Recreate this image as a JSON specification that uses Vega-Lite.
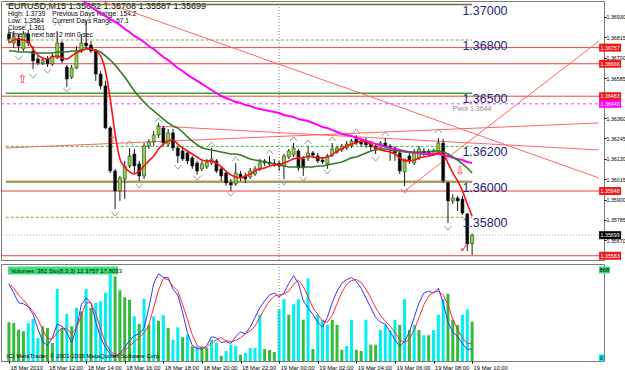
{
"$schema": "https://vega.github.io/schema/vega-lite/v6.json",
"padding": 0,
"background": "white",
"spacing": 2,
"config": {
 "view": {"stroke": "#7a7a7a", "strokeWidth": 1},
 "font": "Liberation Sans",
 "axis": {"labelFont": "Liberation Sans", "labelColor": "#000000", "tickColor": "#000000", "domain": false, "grid": false},
 "axisY": {"labelFontSize": 5.3, "tickSize": 2, "labelPadding": 0},
 "axisX": {"labelFontSize": 5.8}
},
"datasets": {
 "bars": [
{"t":"2010-03-18T10:00Z","open":1.36834,"high":1.36862,"low":1.36783,"close":1.36806,"vol":375,"vcol":"green","sto":79,"sig":80,"ema1":1.36783,"ema2":1.36738,"ema3":null},
{"t":"2010-03-18T10:15Z","open":1.36783,"high":1.36851,"low":1.36755,"close":1.36817,"vol":368,"vcol":"green","sto":70,"sig":75,"ema1":1.36800,"ema2":1.36738,"ema3":null},
{"t":"2010-03-18T10:30Z","open":1.36811,"high":1.36834,"low":1.36738,"close":1.36766,"vol":303,"vcol":"green","sto":60,"sig":68,"ema1":1.36806,"ema2":1.36732,"ema3":null},
{"t":"2010-03-18T10:45Z","open":1.36749,"high":1.36851,"low":1.36738,"close":1.36834,"vol":288,"vcol":"green","sto":59,"sig":63,"ema1":1.36800,"ema2":1.36732,"ema3":null},
{"t":"2010-03-18T11:00Z","open":1.36834,"high":1.36856,"low":1.36766,"close":1.36783,"vol":368,"vcol":"cyan","sto":56,"sig":57,"ema1":1.36789,"ema2":1.36732,"ema3":null},
{"t":"2010-03-18T11:15Z","open":1.36738,"high":1.36766,"low":1.36636,"close":1.36682,"vol":407,"vcol":"cyan","sto":48,"sig":51,"ema1":1.36749,"ema2":1.36727,"ema3":null},
{"t":"2010-03-18T11:30Z","open":1.36693,"high":1.36710,"low":1.36659,"close":1.36670,"vol":223,"vcol":"cyan","sto":33,"sig":43,"ema1":1.36715,"ema2":1.36727,"ema3":null},
{"t":"2010-03-18T11:45Z","open":1.36670,"high":1.36699,"low":1.36659,"close":1.36687,"vol":336,"vcol":"green","sto":20,"sig":32,"ema1":1.36699,"ema2":1.36727,"ema3":null},
{"t":"2010-03-18T12:00Z","open":1.36693,"high":1.36710,"low":1.36648,"close":1.36665,"vol":320,"vcol":"green","sto":16,"sig":23,"ema1":1.36693,"ema2":1.36727,"ema3":null},
{"t":"2010-03-18T12:15Z","open":1.36665,"high":1.36727,"low":1.36654,"close":1.36710,"vol":174,"vcol":"green","sto":24,"sig":23,"ema1":1.36704,"ema2":1.36727,"ema3":null},
{"t":"2010-03-18T12:30Z","open":1.36699,"high":1.36851,"low":1.36693,"close":1.36783,"vol":698,"vcol":"cyan","sto":38,"sig":29,"ema1":1.36710,"ema2":1.36732,"ema3":null},
{"t":"2010-03-18T12:45Z","open":1.36783,"high":1.36794,"low":1.36670,"close":1.36682,"vol":320,"vcol":"green","sto":36,"sig":34,"ema1":1.36699,"ema2":1.36732,"ema3":null},
{"t":"2010-03-18T13:00Z","open":1.36648,"high":1.36659,"low":1.36535,"close":1.36580,"vol":455,"vcol":"cyan","sto":29,"sig":33,"ema1":1.36693,"ema2":1.36732,"ema3":null},
{"t":"2010-03-18T13:15Z","open":1.36591,"high":1.36659,"low":1.36580,"close":1.36642,"vol":336,"vcol":"green","sto":19,"sig":28,"ema1":1.36710,"ema2":1.36738,"ema3":1.37065},
{"t":"2010-03-18T13:30Z","open":1.36642,"high":1.36766,"low":1.36636,"close":1.36738,"vol":514,"vcol":"cyan","sto":34,"sig":34,"ema1":1.36727,"ema2":1.36738,"ema3":1.37043},
{"t":"2010-03-18T13:45Z","open":1.36738,"high":1.36834,"low":1.36727,"close":1.36783,"vol":481,"vcol":"green","sto":58,"sig":47,"ema1":1.36738,"ema2":1.36744,"ema3":1.37026},
{"t":"2010-03-18T14:00Z","open":1.36783,"high":1.36907,"low":1.36749,"close":1.36766,"vol":698,"vcol":"cyan","sto":65,"sig":60,"ema1":1.36749,"ema2":1.36749,"ema3":1.37009},
{"t":"2010-03-18T14:15Z","open":1.36772,"high":1.36794,"low":1.36727,"close":1.36738,"vol":514,"vcol":"green","sto":60,"sig":60,"ema1":1.36749,"ema2":1.36749,"ema3":1.36986},
{"t":"2010-03-18T14:30Z","open":1.36738,"high":1.36749,"low":1.36569,"close":1.36608,"vol":562,"vcol":"cyan","sto":40,"sig":49,"ema1":1.36738,"ema2":1.36744,"ema3":1.36969},
{"t":"2010-03-18T14:45Z","open":1.36608,"high":1.36625,"low":1.36524,"close":1.36541,"vol":578,"vcol":"cyan","sto":24,"sig":33,"ema1":1.36710,"ema2":1.36732,"ema3":1.36952},
{"t":"2010-03-18T15:00Z","open":1.36541,"high":1.36569,"low":1.36298,"close":1.36304,"vol":659,"vcol":"cyan","sto":14,"sig":19,"ema1":1.36625,"ema2":1.36710,"ema3":1.36935},
{"t":"2010-03-18T15:15Z","open":1.36304,"high":1.36315,"low":1.36050,"close":1.36061,"vol":853,"vcol":"cyan","sto":7,"sig":10,"ema1":1.36467,"ema2":1.36687,"ema3":1.36918},
{"t":"2010-03-18T15:30Z","open":1.36061,"high":1.36073,"low":1.35847,"close":1.35948,"vol":820,"vcol":"green","sto":5,"sig":6.5,"ema1":1.36270,"ema2":1.36659,"ema3":1.36902},
{"t":"2010-03-18T15:45Z","open":1.35948,"high":1.36033,"low":1.35892,"close":1.36022,"vol":685,"vcol":"green","sto":8,"sig":6.5,"ema1":1.36129,"ema2":1.36625,"ema3":1.36885},
{"t":"2010-03-18T16:00Z","open":1.36016,"high":1.36118,"low":1.35903,"close":1.36089,"vol":617,"vcol":"green","sto":14,"sig":11,"ema1":1.36084,"ema2":1.36591,"ema3":1.36862},
{"t":"2010-03-18T16:15Z","open":1.36089,"high":1.36191,"low":1.36078,"close":1.36146,"vol":594,"vcol":"green","sto":21,"sig":15,"ema1":1.36056,"ema2":1.36552,"ema3":1.36845},
{"t":"2010-03-18T16:30Z","open":1.36157,"high":1.36185,"low":1.36044,"close":1.36089,"vol":433,"vcol":"cyan","sto":26,"sig":20,"ema1":1.36044,"ema2":1.36512,"ema3":1.36823},
{"t":"2010-03-18T16:45Z","open":1.36101,"high":1.36118,"low":1.36005,"close":1.36033,"vol":359,"vcol":"green","sto":28,"sig":24,"ema1":1.36061,"ema2":1.36479,"ema3":1.36806},
{"t":"2010-03-18T17:00Z","open":1.36033,"high":1.36219,"low":1.36016,"close":1.36202,"vol":604,"vcol":"cyan","sto":34,"sig":29,"ema1":1.36089,"ema2":1.36450,"ema3":1.36789},
{"t":"2010-03-18T17:15Z","open":1.36202,"high":1.36242,"low":1.36185,"close":1.36225,"vol":352,"vcol":"green","sto":55,"sig":37,"ema1":1.36118,"ema2":1.36422,"ema3":1.36766},
{"t":"2010-03-18T17:30Z","open":1.36225,"high":1.36287,"low":1.36202,"close":1.36264,"vol":433,"vcol":"cyan","sto":80,"sig":55,"ema1":1.36146,"ema2":1.36400,"ema3":1.36749},
{"t":"2010-03-18T17:45Z","open":1.36264,"high":1.36332,"low":1.36247,"close":1.36315,"vol":391,"vcol":"green","sto":90,"sig":73,"ema1":1.36185,"ema2":1.36377,"ema3":1.36727},
{"t":"2010-03-18T18:00Z","open":1.36304,"high":1.36315,"low":1.36202,"close":1.36219,"vol":443,"vcol":"cyan","sto":86,"sig":85,"ema1":1.36213,"ema2":1.36354,"ema3":1.36704},
{"t":"2010-03-18T18:15Z","open":1.36213,"high":1.36298,"low":1.36197,"close":1.36276,"vol":320,"vcol":"green","sto":86,"sig":84,"ema1":1.36230,"ema2":1.36332,"ema3":1.36687},
{"t":"2010-03-18T18:30Z","open":1.36276,"high":1.36298,"low":1.36174,"close":1.36191,"vol":206,"vcol":"cyan","sto":74,"sig":77,"ema1":1.36236,"ema2":1.36315,"ema3":1.36665},
{"t":"2010-03-18T18:45Z","open":1.36191,"high":1.36202,"low":1.36106,"close":1.36146,"vol":326,"vcol":"cyan","sto":68,"sig":72,"ema1":1.36213,"ema2":1.36304,"ema3":1.36642},
{"t":"2010-03-18T19:00Z","open":1.36174,"high":1.36191,"low":1.36118,"close":1.36129,"vol":230,"vcol":"green","sto":50,"sig":58,"ema1":1.36191,"ema2":1.36281,"ema3":1.36625},
{"t":"2010-03-18T19:15Z","open":1.36163,"high":1.36174,"low":1.36101,"close":1.36118,"vol":255,"vcol":"cyan","sto":29,"sig":43,"ema1":1.36174,"ema2":1.36253,"ema3":1.36603},
{"t":"2010-03-18T19:30Z","open":1.36135,"high":1.36146,"low":1.36073,"close":1.36089,"vol":142,"vcol":"green","sto":16,"sig":27,"ema1":1.36157,"ema2":1.36230,"ema3":1.36586},
{"t":"2010-03-18T19:45Z","open":1.36106,"high":1.36118,"low":1.36039,"close":1.36061,"vol":142,"vcol":"cyan","sto":13,"sig":16,"ema1":1.36140,"ema2":1.36208,"ema3":1.36569},
{"t":"2010-03-18T20:00Z","open":1.36073,"high":1.36118,"low":1.36061,"close":1.36101,"vol":142,"vcol":"green","sto":12,"sig":13,"ema1":1.36123,"ema2":1.36191,"ema3":1.36552},
{"t":"2010-03-18T20:15Z","open":1.36084,"high":1.36129,"low":1.36073,"close":1.36112,"vol":126,"vcol":"green","sto":16,"sig":14,"ema1":1.36118,"ema2":1.36185,"ema3":1.36535},
{"t":"2010-03-18T20:30Z","open":1.36106,"high":1.36191,"low":1.36095,"close":1.36129,"vol":206,"vcol":"cyan","sto":25,"sig":19,"ema1":1.36118,"ema2":1.36180,"ema3":1.36518},
{"t":"2010-03-18T20:45Z","open":1.36118,"high":1.36129,"low":1.36050,"close":1.36061,"vol":174,"vcol":"cyan","sto":24,"sig":22,"ema1":1.36106,"ema2":1.36174,"ema3":1.36501},
{"t":"2010-03-18T21:00Z","open":1.36073,"high":1.36089,"low":1.36005,"close":1.36033,"vol":50,"vcol":"green","sto":19,"sig":24,"ema1":1.36084,"ema2":1.36168,"ema3":1.36484},
{"t":"2010-03-18T21:15Z","open":1.36050,"high":1.36061,"low":1.35977,"close":1.35994,"vol":97,"vcol":"cyan","sto":20,"sig":21,"ema1":1.36061,"ema2":1.36163,"ema3":1.36473},
{"t":"2010-03-18T21:30Z","open":1.35994,"high":1.36016,"low":1.35948,"close":1.35982,"vol":160,"vcol":"cyan","sto":18,"sig":20,"ema1":1.36039,"ema2":1.36157,"ema3":1.36462},
{"t":"2010-03-18T21:45Z","open":1.35988,"high":1.36106,"low":1.35977,"close":1.36050,"vol":145,"vcol":"cyan","sto":25,"sig":21,"ema1":1.36027,"ema2":1.36157,"ema3":1.36450},
{"t":"2010-03-18T22:00Z","open":1.36044,"high":1.36061,"low":1.36005,"close":1.36027,"vol":61,"vcol":"green","sto":30,"sig":24,"ema1":1.36022,"ema2":1.36151,"ema3":1.36445},
{"t":"2010-03-18T22:15Z","open":1.36033,"high":1.36050,"low":1.35994,"close":1.36016,"vol":78,"vcol":"cyan","sto":28,"sig":28,"ema1":1.36033,"ema2":1.36140,"ema3":1.36433},
{"t":"2010-03-18T22:30Z","open":1.36027,"high":1.36078,"low":1.36016,"close":1.36061,"vol":126,"vcol":"cyan","sto":35,"sig":31,"ema1":1.36044,"ema2":1.36129,"ema3":1.36428},
{"t":"2010-03-18T22:45Z","open":1.36044,"high":1.36089,"low":1.36033,"close":1.36073,"vol":126,"vcol":"cyan","sto":45,"sig":36,"ema1":1.36061,"ema2":1.36123,"ema3":1.36417},
{"t":"2010-03-18T23:00Z","open":1.36073,"high":1.36129,"low":1.36061,"close":1.36106,"vol":450,"vcol":"cyan","sto":55,"sig":45,"ema1":1.36073,"ema2":1.36118,"ema3":1.36411},
{"t":"2010-03-18T23:15Z","open":1.36118,"high":1.36129,"low":1.36089,"close":1.36106,"vol":116,"vcol":"green","sto":62,"sig":54,"ema1":1.36078,"ema2":1.36112,"ema3":1.36405},
{"t":"2010-03-18T23:30Z","open":1.36112,"high":1.36146,"low":1.36089,"close":1.36101,"vol":107,"vcol":"green","sto":68,"sig":62,"ema1":1.36089,"ema2":1.36106,"ema3":1.36400},
{"t":"2010-03-18T23:45Z","open":1.36106,"high":1.36129,"low":1.36084,"close":1.36101,"vol":87,"vcol":"green","sto":70,"sig":67,"ema1":1.36095,"ema2":1.36101,"ema3":1.36394},
{"t":"2010-03-19T00:00Z","open":1.36106,"high":1.36118,"low":1.36061,"close":1.36089,"vol":500,"vcol":"cyan","sto":66,"sig":68,"ema1":1.36095,"ema2":1.36095,"ema3":1.36388},
{"t":"2010-03-19T00:15Z","open":1.36089,"high":1.36157,"low":1.36016,"close":1.36146,"vol":600,"vcol":"cyan","sto":70,"sig":69,"ema1":1.36106,"ema2":1.36089,"ema3":1.36377},
{"t":"2010-03-19T00:30Z","open":1.36140,"high":1.36185,"low":1.36129,"close":1.36174,"vol":450,"vcol":"green","sto":80,"sig":72,"ema1":1.36118,"ema2":1.36084,"ema3":1.36371},
{"t":"2010-03-19T00:45Z","open":1.36151,"high":1.36219,"low":1.36140,"close":1.36191,"vol":550,"vcol":"cyan","sto":88,"sig":79,"ema1":1.36129,"ema2":1.36084,"ema3":1.36366},
{"t":"2010-03-19T01:00Z","open":1.36174,"high":1.36185,"low":1.36061,"close":1.36078,"vol":600,"vcol":"cyan","sto":80,"sig":83,"ema1":1.36135,"ema2":1.36084,"ema3":1.36354},
{"t":"2010-03-19T01:15Z","open":1.36129,"high":1.36146,"low":1.36033,"close":1.36078,"vol":400,"vcol":"green","sto":62,"sig":77,"ema1":1.36135,"ema2":1.36084,"ema3":1.36349},
{"t":"2010-03-19T01:30Z","open":1.36135,"high":1.36202,"low":1.36118,"close":1.36163,"vol":800,"vcol":"cyan","sto":55,"sig":66,"ema1":1.36146,"ema2":1.36084,"ema3":1.36343},
{"t":"2010-03-19T01:45Z","open":1.36163,"high":1.36174,"low":1.36135,"close":1.36151,"vol":116,"vcol":"green","sto":48,"sig":55,"ema1":1.36140,"ema2":1.36084,"ema3":1.36332},
{"t":"2010-03-19T02:00Z","open":1.36146,"high":1.36163,"low":1.36106,"close":1.36118,"vol":450,"vcol":"cyan","sto":40,"sig":48,"ema1":1.36135,"ema2":1.36089,"ema3":1.36321},
{"t":"2010-03-19T02:15Z","open":1.36123,"high":1.36135,"low":1.36101,"close":1.36112,"vol":400,"vcol":"cyan","sto":35,"sig":41,"ema1":1.36135,"ema2":1.36089,"ema3":1.36309},
{"t":"2010-03-19T02:30Z","open":1.36101,"high":1.36157,"low":1.36073,"close":1.36146,"vol":350,"vcol":"cyan","sto":45,"sig":40,"ema1":1.36140,"ema2":1.36095,"ema3":1.36304},
{"t":"2010-03-19T02:45Z","open":1.36151,"high":1.36219,"low":1.36140,"close":1.36185,"vol":400,"vcol":"green","sto":60,"sig":47,"ema1":1.36151,"ema2":1.36101,"ema3":1.36292},
{"t":"2010-03-19T03:00Z","open":1.36168,"high":1.36202,"low":1.36157,"close":1.36191,"vol":350,"vcol":"green","sto":72,"sig":59,"ema1":1.36174,"ema2":1.36106,"ema3":1.36281},
{"t":"2010-03-19T03:15Z","open":1.36180,"high":1.36213,"low":1.36168,"close":1.36202,"vol":109,"vcol":"green","sto":80,"sig":71,"ema1":1.36185,"ema2":1.36112,"ema3":1.36270},
{"t":"2010-03-19T03:30Z","open":1.36191,"high":1.36230,"low":1.36180,"close":1.36213,"vol":145,"vcol":"cyan","sto":84,"sig":79,"ema1":1.36202,"ema2":1.36123,"ema3":1.36264},
{"t":"2010-03-19T03:45Z","open":1.36202,"high":1.36242,"low":1.36191,"close":1.36230,"vol":400,"vcol":"cyan","sto":86,"sig":83,"ema1":1.36213,"ema2":1.36135,"ema3":1.36259},
{"t":"2010-03-19T04:00Z","open":1.36242,"high":1.36264,"low":1.36208,"close":1.36219,"vol":109,"vcol":"green","sto":82,"sig":84,"ema1":1.36219,"ema2":1.36140,"ema3":1.36247},
{"t":"2010-03-19T04:15Z","open":1.36225,"high":1.36242,"low":1.36197,"close":1.36213,"vol":97,"vcol":"green","sto":75,"sig":81,"ema1":1.36230,"ema2":1.36151,"ema3":1.36242},
{"t":"2010-03-19T04:30Z","open":1.36230,"high":1.36247,"low":1.36191,"close":1.36208,"vol":400,"vcol":"cyan","sto":65,"sig":74,"ema1":1.36225,"ema2":1.36163,"ema3":1.36230},
{"t":"2010-03-19T04:45Z","open":1.36213,"high":1.36230,"low":1.36174,"close":1.36197,"vol":158,"vcol":"green","sto":55,"sig":65,"ema1":1.36213,"ema2":1.36174,"ema3":1.36225},
{"t":"2010-03-19T05:00Z","open":1.36202,"high":1.36213,"low":1.36157,"close":1.36185,"vol":158,"vcol":"green","sto":45,"sig":55,"ema1":1.36191,"ema2":1.36180,"ema3":1.36213},
{"t":"2010-03-19T05:15Z","open":1.36191,"high":1.36230,"low":1.36180,"close":1.36219,"vol":300,"vcol":"cyan","sto":40,"sig":47,"ema1":1.36180,"ema2":1.36185,"ema3":1.36208},
{"t":"2010-03-19T05:30Z","open":1.36219,"high":1.36247,"low":1.36191,"close":1.36202,"vol":350,"vcol":"cyan","sto":38,"sig":41,"ema1":1.36174,"ema2":1.36185,"ema3":1.36197},
{"t":"2010-03-19T05:45Z","open":1.36202,"high":1.36213,"low":1.36118,"close":1.36191,"vol":300,"vcol":"cyan","sto":30,"sig":36,"ema1":1.36168,"ema2":1.36180,"ema3":1.36191},
{"t":"2010-03-19T06:00Z","open":1.36191,"high":1.36202,"low":1.36118,"close":1.36163,"vol":400,"vcol":"cyan","sto":22,"sig":30,"ema1":1.36157,"ema2":1.36174,"ema3":1.36185},
{"t":"2010-03-19T06:15Z","open":1.36163,"high":1.36174,"low":1.36044,"close":1.36061,"vol":350,"vcol":"green","sto":15,"sig":22,"ema1":1.36135,"ema2":1.36174,"ema3":1.36180},
{"t":"2010-03-19T06:30Z","open":1.36056,"high":1.36118,"low":1.35977,"close":1.36129,"vol":600,"vcol":"cyan","sto":20,"sig":19,"ema1":1.36118,"ema2":1.36168,"ema3":1.36174},
{"t":"2010-03-19T06:45Z","open":1.36146,"high":1.36174,"low":1.36101,"close":1.36118,"vol":300,"vcol":"green","sto":30,"sig":22,"ema1":1.36118,"ema2":1.36168,"ema3":1.36168},
{"t":"2010-03-19T07:00Z","open":1.36106,"high":1.36185,"low":1.36095,"close":1.36163,"vol":350,"vcol":"cyan","sto":45,"sig":32,"ema1":1.36123,"ema2":1.36168,"ema3":1.36163},
{"t":"2010-03-19T07:15Z","open":1.36135,"high":1.36202,"low":1.36123,"close":1.36185,"vol":300,"vcol":"green","sto":60,"sig":45,"ema1":1.36135,"ema2":1.36168,"ema3":1.36163},
{"t":"2010-03-19T07:30Z","open":1.36174,"high":1.36191,"low":1.36146,"close":1.36157,"vol":250,"vcol":"cyan","sto":70,"sig":58,"ema1":1.36140,"ema2":1.36168,"ema3":1.36157},
{"t":"2010-03-19T07:45Z","open":1.36174,"high":1.36185,"low":1.36146,"close":1.36157,"vol":250,"vcol":"green","sto":72,"sig":67,"ema1":1.36146,"ema2":1.36168,"ema3":1.36157},
{"t":"2010-03-19T08:00Z","open":1.36157,"high":1.36185,"low":1.36146,"close":1.36174,"vol":300,"vcol":"cyan","sto":70,"sig":71,"ema1":1.36151,"ema2":1.36174,"ema3":1.36157},
{"t":"2010-03-19T08:15Z","open":1.36163,"high":1.36247,"low":1.36151,"close":1.36219,"vol":450,"vcol":"cyan","sto":75,"sig":72,"ema1":1.36163,"ema2":1.36174,"ema3":1.36157},
{"t":"2010-03-19T08:30Z","open":1.36219,"high":1.36242,"low":1.35994,"close":1.36005,"vol":600,"vcol":"cyan","sto":60,"sig":68,"ema1":1.36157,"ema2":1.36168,"ema3":1.36151},
{"t":"2010-03-19T08:45Z","open":1.35994,"high":1.36005,"low":1.35768,"close":1.35892,"vol":650,"vcol":"green","sto":40,"sig":58,"ema1":1.36106,"ema2":1.36157,"ema3":1.36146},
{"t":"2010-03-19T09:00Z","open":1.35892,"high":1.35931,"low":1.35875,"close":1.35909,"vol":400,"vcol":"green","sto":30,"sig":43,"ema1":1.36050,"ema2":1.36140,"ema3":1.36135},
{"t":"2010-03-19T09:15Z","open":1.35909,"high":1.35922,"low":1.35836,"close":1.35892,"vol":350,"vcol":"green","sto":25,"sig":32,"ema1":1.36005,"ema2":1.36123,"ema3":1.36129},
{"t":"2010-03-19T09:30Z","open":1.35903,"high":1.35922,"low":1.35813,"close":1.35824,"vol":450,"vcol":"cyan","sto":18,"sig":24,"ema1":1.35948,"ema2":1.36101,"ema3":1.36123},
{"t":"2010-03-19T09:45Z","open":1.35819,"high":1.35824,"low":1.35610,"close":1.35650,"vol":500,"vcol":"cyan","sto":12,"sig":18,"ema1":1.35875,"ema2":1.36078,"ema3":1.36112},
{"t":"2010-03-19T10:00Z","open":1.35652,"high":1.35708,"low":1.35587,"close":1.35699,"vol":382,"vcol":"green","sto":12.4,"sig":17.8,"ema1":1.35807,"ema2":1.36050,"ema3":1.36106}
 ],
 "fractals": [
{"t":"2010-03-18T11:00Z","price":1.36890,"dir":"up"},
{"t":"2010-03-18T12:30Z","price":1.36890,"dir":"up"},
{"t":"2010-03-18T16:15Z","price":1.36219,"dir":"up"},
{"t":"2010-03-18T17:45Z","price":1.36349,"dir":"up"},
{"t":"2010-03-18T20:30Z","price":1.36213,"dir":"up"},
{"t":"2010-03-18T21:45Z","price":1.36129,"dir":"up"},
{"t":"2010-03-18T23:30Z","price":1.36168,"dir":"up"},
{"t":"2010-03-19T00:45Z","price":1.36242,"dir":"up"},
{"t":"2010-03-19T01:30Z","price":1.36225,"dir":"up"},
{"t":"2010-03-19T02:45Z","price":1.36242,"dir":"up"},
{"t":"2010-03-19T04:00Z","price":1.36287,"dir":"up"},
{"t":"2010-03-19T05:30Z","price":1.36270,"dir":"up"},
{"t":"2010-03-19T08:15Z","price":1.36287,"dir":"up"},
{"t":"2010-03-18T10:30Z","price":1.36699,"dir":"down"},
{"t":"2010-03-18T11:15Z","price":1.36597,"dir":"down"},
{"t":"2010-03-18T12:00Z","price":1.36625,"dir":"down"},
{"t":"2010-03-18T13:00Z","price":1.36518,"dir":"down"},
{"t":"2010-03-18T15:30Z","price":1.35819,"dir":"down"},
{"t":"2010-03-18T16:45Z","price":1.35977,"dir":"down"},
{"t":"2010-03-18T18:45Z","price":1.36084,"dir":"down"},
{"t":"2010-03-18T19:45Z","price":1.36022,"dir":"down"},
{"t":"2010-03-18T21:30Z","price":1.35931,"dir":"down"},
{"t":"2010-03-19T00:15Z","price":1.35994,"dir":"down"},
{"t":"2010-03-19T01:15Z","price":1.36016,"dir":"down"},
{"t":"2010-03-19T02:30Z","price":1.36056,"dir":"down"},
{"t":"2010-03-19T05:00Z","price":1.36129,"dir":"down"},
{"t":"2010-03-19T06:30Z","price":1.35948,"dir":"down"},
{"t":"2010-03-19T08:45Z","price":1.35740,"dir":"down"}
 ],
 "levels": [
{"level":1.3700,"style":"olive","from":"2010-03-18T09:50Z","to":"2010-03-19T10:00Z"},
{"level":1.3680,"style":"olive-dash","from":"2010-03-18T09:50Z","to":"2010-03-19T10:00Z"},
{"level":1.3650,"style":"green","from":"2010-03-18T09:50Z","to":"2010-03-19T10:00Z"},
{"level":1.3620,"style":"green-dash","from":"2010-03-18T09:50Z","to":"2010-03-19T10:00Z"},
{"level":1.3600,"style":"olive-bold","from":"2010-03-18T09:50Z","to":"2010-03-19T10:00Z"},
{"level":1.3580,"style":"olive-dash","from":"2010-03-18T09:50Z","to":"2010-03-19T10:00Z"}
 ],
 "marks": [
{"price":1.36757,"kind":"line"},{"price":1.36666,"kind":"line"},{"price":1.36483,"kind":"line"},
{"price":1.36440,"kind":"pivot"},{"price":1.35948,"kind":"line"},{"price":1.35699,"kind":"bid"},{"price":1.35583,"kind":"line"}
 ]
},
"vconcat": [
{
 "width": 603,
 "height": 259,
 "layer": [
  {
   "data": {"values": [
    {"t":"2010-03-18T09:57Z","price":1.36992,"size":"big","text":"EURUSD,M15  1.35652 1.35708 1.35587 1.35699"},
    {"t":"2010-03-18T09:57Z","price":1.36947,"size":"small","text":"High: 1.3739"},
    {"t":"2010-03-18T12:15Z","price":1.36947,"size":"small","text":"Previous Days Range: 154.2"},
    {"t":"2010-03-18T09:57Z","price":1.36907,"size":"small","text":"Low: 1.3584"},
    {"t":"2010-03-18T12:15Z","price":1.36907,"size":"small","text":"Current Days Range: 67.1"},
    {"t":"2010-03-18T09:57Z","price":1.36868,"size":"small","text":"Close: 1.361"},
    {"t":"2010-03-18T09:57Z","price":1.36828,"size":"small","text":"Time to next bar: 2 min 0 sec"}
   ]},
   "mark": {"type": "text", "align": "left", "baseline": "middle", "color": "#000000"},
   "encoding": {
    "x": {"field": "t", "type": "temporal", "scale": {"type": "utc", "domain": [1268905850000, 1269016470000]}, "axis": null},
    "y": {"field": "price", "type": "quantitative", "scale": {"domain": [1.35559, 1.3702], "nice": false, "zero": false}, "axis": {"orient": "right", "values": [1.3693, 1.36815, 1.367, 1.36585, 1.3636, 1.36245, 1.3613, 1.36015, 1.359, 1.35785, 1.3567], "format": ".5f", "title": null, "labelOverlap": false, "labelFlush": false}},
    "size": {"field": "size", "type": "nominal", "legend": null, "scale": {"domain": ["big", "small"], "range": [9, 6.6]}},
    "text": {"field": "text"}
   }
  },
  {
   "data": {"name": "marks"},
   "transform": [{"filter": "datum.kind == 'line'"}],
   "mark": {"type": "rule", "color": "#ee4040", "strokeWidth": 1},
   "encoding": {"y": {"field": "price", "type": "quantitative", "scale": {"domain": [1.35559, 1.3702], "nice": false, "zero": false}, "axis": {"orient": "right", "values": [1.3693, 1.36815, 1.367, 1.36585, 1.3636, 1.36245, 1.3613, 1.36015, 1.359, 1.35785, 1.3567], "format": ".5f", "title": null, "labelOverlap": false, "labelFlush": false}}}
  },
  {
   "data": {"name": "marks"},
   "transform": [{"filter": "datum.kind == 'pivot'"}],
   "mark": {"type": "rule", "color": "#ff40ff", "strokeWidth": 1, "strokeDash": [3, 3]},
   "encoding": {"y": {"field": "price", "type": "quantitative", "scale": {"domain": [1.35559, 1.3702], "nice": false, "zero": false}, "axis": {"orient": "right", "values": [1.3693, 1.36815, 1.367, 1.36585, 1.3636, 1.36245, 1.3613, 1.36015, 1.359, 1.35785, 1.3567], "format": ".5f", "title": null, "labelOverlap": false, "labelFlush": false}}}
  },
  {
   "data": {"name": "marks"},
   "transform": [{"filter": "datum.kind == 'bid'"}],
   "mark": {"type": "rule", "color": "#b8b8b8", "strokeWidth": 1, "strokeDash": [1, 2]},
   "encoding": {"y": {"field": "price", "type": "quantitative", "scale": {"domain": [1.35559, 1.3702], "nice": false, "zero": false}, "axis": {"orient": "right", "values": [1.3693, 1.36815, 1.367, 1.36585, 1.3636, 1.36245, 1.3613, 1.36015, 1.359, 1.35785, 1.3567], "format": ".5f", "title": null, "labelOverlap": false, "labelFlush": false}}}
  },
  {
   "data": {"name": "levels"},
   "transform": [{"filter": "datum.style == 'olive'"}],
   "mark": {"type": "rule", "color": "#6e6a30", "strokeWidth": 1.5},
   "encoding": {
    "x": {"field": "from", "type": "temporal", "scale": {"type": "utc", "domain": [1268905850000, 1269016470000]}, "axis": null},
    "x2": {"field": "to"},
    "y": {"field": "level", "type": "quantitative", "scale": {"domain": [1.35559, 1.3702], "nice": false, "zero": false}, "axis": {"orient": "right", "values": [1.3693, 1.36815, 1.367, 1.36585, 1.3636, 1.36245, 1.3613, 1.36015, 1.359, 1.35785, 1.3567], "format": ".5f", "title": null, "labelOverlap": false, "labelFlush": false}}
   }
  },
  {
   "data": {"name": "levels"},
   "transform": [{"filter": "datum.style == 'olive-dash'"}],
   "mark": {"type": "rule", "color": "#9a9a30", "strokeWidth": 1, "strokeDash": [3, 2]},
   "encoding": {
    "x": {"field": "from", "type": "temporal", "scale": {"type": "utc", "domain": [1268905850000, 1269016470000]}, "axis": null},
    "x2": {"field": "to"},
    "y": {"field": "level", "type": "quantitative", "scale": {"domain": [1.35559, 1.3702], "nice": false, "zero": false}, "axis": {"orient": "right", "values": [1.3693, 1.36815, 1.367, 1.36585, 1.3636, 1.36245, 1.3613, 1.36015, 1.359, 1.35785, 1.3567], "format": ".5f", "title": null, "labelOverlap": false, "labelFlush": false}}
   }
  },
  {
   "data": {"name": "levels"},
   "transform": [{"filter": "datum.style == 'green'"}],
   "mark": {"type": "rule", "color": "#30a830", "strokeWidth": 1.5},
   "encoding": {
    "x": {"field": "from", "type": "temporal", "scale": {"type": "utc", "domain": [1268905850000, 1269016470000]}, "axis": null},
    "x2": {"field": "to"},
    "y": {"field": "level", "type": "quantitative", "scale": {"domain": [1.35559, 1.3702], "nice": false, "zero": false}, "axis": {"orient": "right", "values": [1.3693, 1.36815, 1.367, 1.36585, 1.3636, 1.36245, 1.3613, 1.36015, 1.359, 1.35785, 1.3567], "format": ".5f", "title": null, "labelOverlap": false, "labelFlush": false}}
   }
  },
  {
   "data": {"name": "levels"},
   "transform": [{"filter": "datum.style == 'green-dash'"}],
   "mark": {"type": "rule", "color": "#30c030", "strokeWidth": 1, "strokeDash": [3, 2]},
   "encoding": {
    "x": {"field": "from", "type": "temporal", "scale": {"type": "utc", "domain": [1268905850000, 1269016470000]}, "axis": null},
    "x2": {"field": "to"},
    "y": {"field": "level", "type": "quantitative", "scale": {"domain": [1.35559, 1.3702], "nice": false, "zero": false}, "axis": {"orient": "right", "values": [1.3693, 1.36815, 1.367, 1.36585, 1.3636, 1.36245, 1.3613, 1.36015, 1.359, 1.35785, 1.3567], "format": ".5f", "title": null, "labelOverlap": false, "labelFlush": false}}
   }
  },
  {
   "data": {"name": "levels"},
   "transform": [{"filter": "datum.style == 'olive-bold'"}],
   "mark": {"type": "rule", "color": "#a8a060", "strokeWidth": 2.5},
   "encoding": {
    "x": {"field": "from", "type": "temporal", "scale": {"type": "utc", "domain": [1268905850000, 1269016470000]}, "axis": null},
    "x2": {"field": "to"},
    "y": {"field": "level", "type": "quantitative", "scale": {"domain": [1.35559, 1.3702], "nice": false, "zero": false}, "axis": {"orient": "right", "values": [1.3693, 1.36815, 1.367, 1.36585, 1.3636, 1.36245, 1.3613, 1.36015, 1.359, 1.35785, 1.3567], "format": ".5f", "title": null, "labelOverlap": false, "labelFlush": false}}
   }
  },
  {
   "data": {"values": [
    {"t1":"2010-03-18T14:47Z","p1":1.37020,"t2":"2010-03-19T16:34Z","p2":1.36022},
    {"t1":"2010-03-18T17:39Z","p1":1.36315,"t2":"2010-03-19T16:34Z","p2":1.36180},
    {"t1":"2010-03-18T09:51Z","p1":1.36191,"t2":"2010-03-19T16:34Z","p2":1.36332},
    {"t1":"2010-03-19T06:30Z","p1":1.35948,"t2":"2010-03-19T16:34Z","p2":1.36794}
   ]},
   "mark": {"type": "rule", "color": "#ff6464", "strokeWidth": 1},
   "encoding": {
    "x": {"field": "t1", "type": "temporal", "scale": {"type": "utc", "domain": [1268905850000, 1269016470000]}, "axis": null},
    "x2": {"field": "t2"},
    "y": {"field": "p1", "type": "quantitative", "scale": {"domain": [1.35559, 1.3702], "nice": false, "zero": false}, "axis": {"orient": "right", "values": [1.3693, 1.36815, 1.367, 1.36585, 1.3636, 1.36245, 1.3613, 1.36015, 1.359, 1.35785, 1.3567], "format": ".5f", "title": null, "labelOverlap": false, "labelFlush": false}},
    "y2": {"field": "p2"}
   }
  },
  {
   "data": {"values": [{"t":"2010-03-19T00:00Z"}]},
   "mark": {"type": "rule", "color": "#808080", "strokeWidth": 1, "strokeDash": [1, 2]},
   "encoding": {"x": {"field": "t", "type": "temporal", "scale": {"type": "utc", "domain": [1268905850000, 1269016470000]}, "axis": null}}
  },
  {
   "data": {"name": "bars"},
   "mark": {"type": "rule", "color": "#1a1a1a", "strokeWidth": 1},
   "encoding": {
    "x": {"field": "t", "type": "temporal", "scale": {"type": "utc", "domain": [1268905850000, 1269016470000]}, "axis": null},
    "y": {"field": "low", "type": "quantitative", "scale": {"domain": [1.35559, 1.3702], "nice": false, "zero": false}, "axis": {"orient": "right", "values": [1.3693, 1.36815, 1.367, 1.36585, 1.3636, 1.36245, 1.3613, 1.36015, 1.359, 1.35785, 1.3567], "format": ".5f", "title": null, "labelOverlap": false, "labelFlush": false}},
    "y2": {"field": "high"}
   }
  },
  {
   "data": {"name": "bars"},
   "mark": {"type": "bar", "width": 3, "stroke": "#2a2a2a", "strokeWidth": 0.6},
   "encoding": {
    "x": {"field": "t", "type": "temporal", "scale": {"type": "utc", "domain": [1268905850000, 1269016470000]}, "axis": null},
    "y": {"field": "open", "type": "quantitative", "scale": {"domain": [1.35559, 1.3702], "nice": false, "zero": false}, "axis": {"orient": "right", "values": [1.3693, 1.36815, 1.367, 1.36585, 1.3636, 1.36245, 1.3613, 1.36015, 1.359, 1.35785, 1.3567], "format": ".5f", "title": null, "labelOverlap": false, "labelFlush": false}},
    "y2": {"field": "close"},
    "color": {"condition": {"test": "datum.close > datum.open", "value": "#86e030"}, "value": "#000000"}
   }
  },
  {
   "data": {"name": "bars"},
   "mark": {"type": "line", "color": "#ff00ff", "strokeWidth": 2, "clip": true},
   "encoding": {
    "x": {"field": "t", "type": "temporal", "scale": {"type": "utc", "domain": [1268905850000, 1269016470000]}, "axis": null},
    "y": {"field": "ema3", "type": "quantitative", "scale": {"domain": [1.35559, 1.3702], "nice": false, "zero": false}, "axis": {"orient": "right", "values": [1.3693, 1.36815, 1.367, 1.36585, 1.3636, 1.36245, 1.3613, 1.36015, 1.359, 1.35785, 1.3567], "format": ".5f", "title": null, "labelOverlap": false, "labelFlush": false}}
   }
  },
  {
   "data": {"name": "bars"},
   "mark": {"type": "line", "color": "#2e7d22", "strokeWidth": 1.6},
   "encoding": {
    "x": {"field": "t", "type": "temporal", "scale": {"type": "utc", "domain": [1268905850000, 1269016470000]}, "axis": null},
    "y": {"field": "ema2", "type": "quantitative", "scale": {"domain": [1.35559, 1.3702], "nice": false, "zero": false}, "axis": {"orient": "right", "values": [1.3693, 1.36815, 1.367, 1.36585, 1.3636, 1.36245, 1.3613, 1.36015, 1.359, 1.35785, 1.3567], "format": ".5f", "title": null, "labelOverlap": false, "labelFlush": false}}
   }
  },
  {
   "data": {"name": "bars"},
   "mark": {"type": "line", "color": "#ff1010", "strokeWidth": 1.6, "interpolate": "monotone"},
   "encoding": {
    "x": {"field": "t", "type": "temporal", "scale": {"type": "utc", "domain": [1268905850000, 1269016470000]}, "axis": null},
    "y": {"field": "ema1", "type": "quantitative", "scale": {"domain": [1.35559, 1.3702], "nice": false, "zero": false}, "axis": {"orient": "right", "values": [1.3693, 1.36815, 1.367, 1.36585, 1.3636, 1.36245, 1.3613, 1.36015, 1.359, 1.35785, 1.3567], "format": ".5f", "title": null, "labelOverlap": false, "labelFlush": false}}
   }
  },
  {
   "data": {"name": "fractals"},
   "transform": [{"filter": "datum.dir == 'up'"}],
   "mark": {"type": "point", "shape": "M-1,0.6L0,-0.6L1,0.6", "filled": false, "color": "#9a9a9a", "strokeWidth": 1, "size": 50, "opacity": 1},
   "encoding": {
    "x": {"field": "t", "type": "temporal", "scale": {"type": "utc", "domain": [1268905850000, 1269016470000]}, "axis": null},
    "y": {"field": "price", "type": "quantitative", "scale": {"domain": [1.35559, 1.3702], "nice": false, "zero": false}, "axis": {"orient": "right", "values": [1.3693, 1.36815, 1.367, 1.36585, 1.3636, 1.36245, 1.3613, 1.36015, 1.359, 1.35785, 1.3567], "format": ".5f", "title": null, "labelOverlap": false, "labelFlush": false}}
   }
  },
  {
   "data": {"name": "fractals"},
   "transform": [{"filter": "datum.dir == 'down'"}],
   "mark": {"type": "point", "shape": "M-1,-0.6L0,0.6L1,-0.6", "filled": false, "color": "#9a9a9a", "strokeWidth": 1, "size": 50, "opacity": 1},
   "encoding": {
    "x": {"field": "t", "type": "temporal", "scale": {"type": "utc", "domain": [1268905850000, 1269016470000]}, "axis": null},
    "y": {"field": "price", "type": "quantitative", "scale": {"domain": [1.35559, 1.3702], "nice": false, "zero": false}, "axis": {"orient": "right", "values": [1.3693, 1.36815, 1.367, 1.36585, 1.3636, 1.36245, 1.3613, 1.36015, 1.359, 1.35785, 1.3567], "format": ".5f", "title": null, "labelOverlap": false, "labelFlush": false}}
   }
  },
  {
   "data": {"values": [
    {"t":"2010-03-18T10:43Z","price":1.36580,"sym":"⇧"},
    {"t":"2010-03-18T15:21Z","price":1.36236,"sym":"⇧"},
    {"t":"2010-03-19T09:23Z","price":1.36061,"sym":"⇩"},
    {"t":"2010-03-19T09:36Z","price":1.35627,"sym":"✓"}
   ]},
   "mark": {"type": "text", "color": "#ff2020", "fontSize": 12, "align": "center", "baseline": "middle", "font": "DejaVu Sans"},
   "encoding": {
    "x": {"field": "t", "type": "temporal", "scale": {"type": "utc", "domain": [1268905850000, 1269016470000]}, "axis": null},
    "y": {"field": "price", "type": "quantitative", "scale": {"domain": [1.35559, 1.3702], "nice": false, "zero": false}, "axis": {"orient": "right", "values": [1.3693, 1.36815, 1.367, 1.36585, 1.3636, 1.36245, 1.3613, 1.36015, 1.359, 1.35785, 1.3567], "format": ".5f", "title": null, "labelOverlap": false, "labelFlush": false}},
    "text": {"field": "sym"}
   }
  },
  {
   "data": {"name": "levels"},
   "mark": {"type": "text", "color": "#1c2580", "fontSize": 12.5, "align": "center", "baseline": "middle", "dy": 6},
   "encoding": {
    "x": {"datum": 1268995200000, "type": "temporal", "scale": {"type": "utc", "domain": [1268905850000, 1269016470000]}, "axis": null},
    "y": {"field": "level", "type": "quantitative", "scale": {"domain": [1.35559, 1.3702], "nice": false, "zero": false}, "axis": {"orient": "right", "values": [1.3693, 1.36815, 1.367, 1.36585, 1.3636, 1.36245, 1.3613, 1.36015, 1.359, 1.35785, 1.3567], "format": ".5f", "title": null, "labelOverlap": false, "labelFlush": false}},
    "text": {"field": "level", "format": ".5f"}
   }
  },
  {
   "data": {"values": [{"t":"2010-03-19T08:59Z","price":1.3644,"text":"Pivot  1.3644"}]},
   "mark": {"type": "text", "color": "#8a8a8a", "fontSize": 7, "align": "left", "baseline": "top", "dy": 1},
   "encoding": {
    "x": {"field": "t", "type": "temporal", "scale": {"type": "utc", "domain": [1268905850000, 1269016470000]}, "axis": null},
    "y": {"field": "price", "type": "quantitative", "scale": {"domain": [1.35559, 1.3702], "nice": false, "zero": false}, "axis": {"orient": "right", "values": [1.3693, 1.36815, 1.367, 1.36585, 1.3636, 1.36245, 1.3613, 1.36015, 1.359, 1.35785, 1.3567], "format": ".5f", "title": null, "labelOverlap": false, "labelFlush": false}},
    "text": {"field": "text"}
   }
  },
  {
   "data": {"name": "marks"},
   "transform": [{"filter": "datum.kind == 'line'"}],
   "mark": {"type": "tick", "orient": "horizontal", "size": 22, "thickness": 8, "color": "#f01818", "opacity": 1},
   "encoding": {
    "x": {"datum": 1269018540000, "type": "temporal", "scale": {"type": "utc", "domain": [1268905850000, 1269016470000]}, "axis": null},
    "y": {"field": "price", "type": "quantitative", "scale": {"domain": [1.35559, 1.3702], "nice": false, "zero": false}, "axis": {"orient": "right", "values": [1.3693, 1.36815, 1.367, 1.36585, 1.3636, 1.36245, 1.3613, 1.36015, 1.359, 1.35785, 1.3567], "format": ".5f", "title": null, "labelOverlap": false, "labelFlush": false}}
   }
  },
  {
   "data": {"name": "marks"},
   "transform": [{"filter": "datum.kind == 'pivot'"}],
   "mark": {"type": "tick", "orient": "horizontal", "size": 22, "thickness": 8, "color": "#ff00ff", "opacity": 1},
   "encoding": {
    "x": {"datum": 1269018540000, "type": "temporal", "scale": {"type": "utc", "domain": [1268905850000, 1269016470000]}, "axis": null},
    "y": {"field": "price", "type": "quantitative", "scale": {"domain": [1.35559, 1.3702], "nice": false, "zero": false}, "axis": {"orient": "right", "values": [1.3693, 1.36815, 1.367, 1.36585, 1.3636, 1.36245, 1.3613, 1.36015, 1.359, 1.35785, 1.3567], "format": ".5f", "title": null, "labelOverlap": false, "labelFlush": false}}
   }
  },
  {
   "data": {"name": "marks"},
   "transform": [{"filter": "datum.kind == 'bid'"}],
   "mark": {"type": "tick", "orient": "horizontal", "size": 22, "thickness": 8, "color": "#000000", "opacity": 1},
   "encoding": {
    "x": {"datum": 1269018540000, "type": "temporal", "scale": {"type": "utc", "domain": [1268905850000, 1269016470000]}, "axis": null},
    "y": {"field": "price", "type": "quantitative", "scale": {"domain": [1.35559, 1.3702], "nice": false, "zero": false}, "axis": {"orient": "right", "values": [1.3693, 1.36815, 1.367, 1.36585, 1.3636, 1.36245, 1.3613, 1.36015, 1.359, 1.35785, 1.3567], "format": ".5f", "title": null, "labelOverlap": false, "labelFlush": false}}
   }
  },
  {
   "data": {"name": "marks"},
   "mark": {"type": "text", "color": "#ffffff", "fontSize": 5.3, "align": "center", "baseline": "middle"},
   "encoding": {
    "x": {"datum": 1269018540000, "type": "temporal", "scale": {"type": "utc", "domain": [1268905850000, 1269016470000]}, "axis": null},
    "y": {"field": "price", "type": "quantitative", "scale": {"domain": [1.35559, 1.3702], "nice": false, "zero": false}, "axis": {"orient": "right", "values": [1.3693, 1.36815, 1.367, 1.36585, 1.3636, 1.36245, 1.3613, 1.36015, 1.359, 1.35785, 1.3567], "format": ".5f", "title": null, "labelOverlap": false, "labelFlush": false}},
    "text": {"field": "price", "format": ".5f"}
   }
  }
 ]
},
{
 "width": 603,
 "height": 97,
 "resolve": {"scale": {"y": "independent"}},
 "layer": [
  {
   "data": {"name": "bars"},
   "transform": [{"filter": "datum.vcol == 'cyan'"}],
   "mark": {"type": "bar", "width": 3, "color": "#00f0f0"},
   "encoding": {
    "x": {"field": "t", "type": "temporal", "scale": {"type": "utc", "domain": [1268905850000, 1269016470000]}, "axis": {"orient": "bottom", "values": [1268906400000, 1268913600000, 1268920800000, 1268928000000, 1268935200000, 1268942400000, 1268949600000, 1268956800000, 1268964000000, 1268971200000, 1268978400000, 1268985600000, 1268992800000], "labelExpr": "datum.index == 0 ? '18 Mar 2010' : utcFormat(datum.value, '%d %b %H:%M')", "labelAlign": "left", "labelBaseline": "top", "tickSize": 2, "labelPadding": 1, "labelOffset": 1, "labelOverlap": false, "labelFlush": false, "title": null}},
    "y": {"field": "vol", "type": "quantitative", "scale": {"domain": [0, 940], "nice": false}, "axis": null}
   }
  },
  {
   "data": {"name": "bars"},
   "transform": [{"filter": "datum.vcol == 'green'"}],
   "mark": {"type": "bar", "width": 3, "color": "#33bb3a"},
   "encoding": {
    "x": {"field": "t", "type": "temporal", "scale": {"type": "utc", "domain": [1268905850000, 1269016470000]}, "axis": {"orient": "bottom", "values": [1268906400000, 1268913600000, 1268920800000, 1268928000000, 1268935200000, 1268942400000, 1268949600000, 1268956800000, 1268964000000, 1268971200000, 1268978400000, 1268985600000, 1268992800000], "labelExpr": "datum.index == 0 ? '18 Mar 2010' : utcFormat(datum.value, '%d %b %H:%M')", "labelAlign": "left", "labelBaseline": "top", "tickSize": 2, "labelPadding": 1, "labelOffset": 1, "labelOverlap": false, "labelFlush": false, "title": null}},
    "y": {"field": "vol", "type": "quantitative", "scale": {"domain": [0, 940], "nice": false}, "axis": null}
   }
  },
  {
   "data": {"values": [{"t":"2010-03-19T00:00Z"}]},
   "mark": {"type": "rule", "color": "#808080", "strokeWidth": 1, "strokeDash": [1, 2]},
   "encoding": {"x": {"field": "t", "type": "temporal", "scale": {"type": "utc", "domain": [1268905850000, 1269016470000]}, "axis": {"orient": "bottom", "values": [1268906400000, 1268913600000, 1268920800000, 1268928000000, 1268935200000, 1268942400000, 1268949600000, 1268956800000, 1268964000000, 1268971200000, 1268978400000, 1268985600000, 1268992800000], "labelExpr": "datum.index == 0 ? '18 Mar 2010' : utcFormat(datum.value, '%d %b %H:%M')", "labelAlign": "left", "labelBaseline": "top", "tickSize": 2, "labelPadding": 1, "labelOffset": 1, "labelOverlap": false, "labelFlush": false, "title": null}}}
  },
  {
   "data": {"name": "bars"},
   "mark": {"type": "line", "color": "#3535ff", "strokeWidth": 1},
   "encoding": {
    "x": {"field": "t", "type": "temporal", "scale": {"type": "utc", "domain": [1268905850000, 1269016470000]}, "axis": {"orient": "bottom", "values": [1268906400000, 1268913600000, 1268920800000, 1268928000000, 1268935200000, 1268942400000, 1268949600000, 1268956800000, 1268964000000, 1268971200000, 1268978400000, 1268985600000, 1268992800000], "labelExpr": "datum.index == 0 ? '18 Mar 2010' : utcFormat(datum.value, '%d %b %H:%M')", "labelAlign": "left", "labelBaseline": "top", "tickSize": 2, "labelPadding": 1, "labelOffset": 1, "labelOverlap": false, "labelFlush": false, "title": null}},
    "y": {"field": "sto", "type": "quantitative", "scale": {"domain": [0, 100], "nice": false}, "axis": null}
   }
  },
  {
   "data": {"name": "bars"},
   "mark": {"type": "line", "color": "#ff2a2a", "strokeWidth": 1},
   "encoding": {
    "x": {"field": "t", "type": "temporal", "scale": {"type": "utc", "domain": [1268905850000, 1269016470000]}, "axis": {"orient": "bottom", "values": [1268906400000, 1268913600000, 1268920800000, 1268928000000, 1268935200000, 1268942400000, 1268949600000, 1268956800000, 1268964000000, 1268971200000, 1268978400000, 1268985600000, 1268992800000], "labelExpr": "datum.index == 0 ? '18 Mar 2010' : utcFormat(datum.value, '%d %b %H:%M')", "labelAlign": "left", "labelBaseline": "top", "tickSize": 2, "labelPadding": 1, "labelOffset": 1, "labelOverlap": false, "labelFlush": false, "title": null}},
    "y": {"field": "sig", "type": "quantitative", "scale": {"domain": [0, 100], "nice": false}, "axis": null}
   }
  },
  {
   "data": {"values": [{"t":1268916490000,"v":877}]},
   "mark": {"type": "tick", "orient": "horizontal", "size": 110, "thickness": 8, "color": "#3ee07c", "opacity": 1},
   "encoding": {
    "x": {"field": "t", "type": "temporal", "scale": {"type": "utc", "domain": [1268905850000, 1269016470000]}, "axis": {"orient": "bottom", "values": [1268906400000, 1268913600000, 1268920800000, 1268928000000, 1268935200000, 1268942400000, 1268949600000, 1268956800000, 1268964000000, 1268971200000, 1268978400000, 1268985600000, 1268992800000], "labelExpr": "datum.index == 0 ? '18 Mar 2010' : utcFormat(datum.value, '%d %b %H:%M')", "labelAlign": "left", "labelBaseline": "top", "tickSize": 2, "labelPadding": 1, "labelOffset": 1, "labelOverlap": false, "labelFlush": false, "title": null}},
    "y": {"field": "v", "type": "quantitative", "scale": {"domain": [0, 940], "nice": false}, "axis": null}
   }
  },
  {
   "data": {"values": [
    {"t":1268906767000,"v":877,"text":"Volumes: 382  Sto(8,3,3) 12.3757 17.8033"},
    {"t":1268905900000,"v":45,"text":"(C) MetaTrader, © 2001-2009 MetaQuotes Software Corp."}
   ]},
   "mark": {"type": "text", "align": "left", "baseline": "middle", "fontSize": 6, "color": "#000000"},
   "encoding": {
    "x": {"field": "t", "type": "temporal", "scale": {"type": "utc", "domain": [1268905850000, 1269016470000]}, "axis": {"orient": "bottom", "values": [1268906400000, 1268913600000, 1268920800000, 1268928000000, 1268935200000, 1268942400000, 1268949600000, 1268956800000, 1268964000000, 1268971200000, 1268978400000, 1268985600000, 1268992800000], "labelExpr": "datum.index == 0 ? '18 Mar 2010' : utcFormat(datum.value, '%d %b %H:%M')", "labelAlign": "left", "labelBaseline": "top", "tickSize": 2, "labelPadding": 1, "labelOffset": 1, "labelOverlap": false, "labelFlush": false, "title": null}},
    "y": {"field": "v", "type": "quantitative", "scale": {"domain": [0, 940], "nice": false}, "axis": null},
    "text": {"field": "text"}
   }
  },
  {
   "data": {"values": [{"t":1269017479000,"v":882,"label":"868"}]},
   "mark": {"type": "tick", "orient": "horizontal", "size": 11, "thickness": 7, "color": "#3ee07c", "opacity": 1},
   "encoding": {
    "x": {"field": "t", "type": "temporal", "scale": {"type": "utc", "domain": [1268905850000, 1269016470000]}, "axis": {"orient": "bottom", "values": [1268906400000, 1268913600000, 1268920800000, 1268928000000, 1268935200000, 1268942400000, 1268949600000, 1268956800000, 1268964000000, 1268971200000, 1268978400000, 1268985600000, 1268992800000], "labelExpr": "datum.index == 0 ? '18 Mar 2010' : utcFormat(datum.value, '%d %b %H:%M')", "labelAlign": "left", "labelBaseline": "top", "tickSize": 2, "labelPadding": 1, "labelOffset": 1, "labelOverlap": false, "labelFlush": false, "title": null}},
    "y": {"field": "v", "type": "quantitative", "scale": {"domain": [0, 940], "nice": false}, "axis": null}
   }
  },
  {
   "data": {"values": [{"t":1269016929000,"v":30,"label":"0"}]},
   "mark": {"type": "tick", "orient": "horizontal", "size": 5, "thickness": 7, "color": "#00f0f0", "opacity": 1},
   "encoding": {
    "x": {"field": "t", "type": "temporal", "scale": {"type": "utc", "domain": [1268905850000, 1269016470000]}, "axis": {"orient": "bottom", "values": [1268906400000, 1268913600000, 1268920800000, 1268928000000, 1268935200000, 1268942400000, 1268949600000, 1268956800000, 1268964000000, 1268971200000, 1268978400000, 1268985600000, 1268992800000], "labelExpr": "datum.index == 0 ? '18 Mar 2010' : utcFormat(datum.value, '%d %b %H:%M')", "labelAlign": "left", "labelBaseline": "top", "tickSize": 2, "labelPadding": 1, "labelOffset": 1, "labelOverlap": false, "labelFlush": false, "title": null}},
    "y": {"field": "v", "type": "quantitative", "scale": {"domain": [0, 940], "nice": false}, "axis": null}
   }
  },
  {
   "data": {"values": [{"t":1269017479000,"v":882,"label":"868"},{"t":1269016929000,"v":30,"label":"0"}]},
   "mark": {"type": "text", "align": "center", "baseline": "middle", "fontSize": 6, "color": "#000000"},
   "encoding": {
    "x": {"field": "t", "type": "temporal", "scale": {"type": "utc", "domain": [1268905850000, 1269016470000]}, "axis": {"orient": "bottom", "values": [1268906400000, 1268913600000, 1268920800000, 1268928000000, 1268935200000, 1268942400000, 1268949600000, 1268956800000, 1268964000000, 1268971200000, 1268978400000, 1268985600000, 1268992800000], "labelExpr": "datum.index == 0 ? '18 Mar 2010' : utcFormat(datum.value, '%d %b %H:%M')", "labelAlign": "left", "labelBaseline": "top", "tickSize": 2, "labelPadding": 1, "labelOffset": 1, "labelOverlap": false, "labelFlush": false, "title": null}},
    "y": {"field": "v", "type": "quantitative", "scale": {"domain": [0, 940], "nice": false}, "axis": null},
    "text": {"field": "label"}
   }
  }
 ]
}
]
}
